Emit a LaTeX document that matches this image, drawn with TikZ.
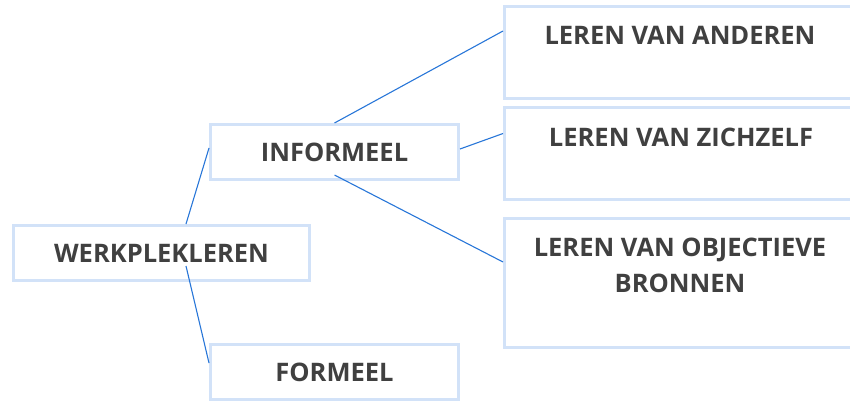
\documentclass[tikz,border=0pt]{standalone}
\usepackage{fontspec}
\setmainfont{Open Sans}
\usetikzlibrary{calc}
\definecolor{boxline}{RGB}{210,226,248}
\definecolor{connblue}{RGB}{40,118,216}
\definecolor{txtgray}{RGB}{64,64,64}
\tikzset{
  box/.style={draw=boxline, line width=3pt, fill=white, rectangle, inner sep=0pt},
  lbl/.style={text=txtgray, font=\fontsize{25.5}{36}\selectfont\bfseries, inner sep=0pt, align=center},
  conn/.style={draw=connblue, line width=1.1pt}
}
\begin{document}
\begin{tikzpicture}[x=1pt,y=-1pt]
\useasboundingbox (0,0) rectangle (850,401);
\clip (0,0) rectangle (850,401);
% boxes
\node[box, minimum width=296pt, minimum height=55pt] (werk) at (161.5,253) {};
\node[box, minimum width=248pt, minimum height=55pt] (inf) at (334.5,152) {};
\node[box, minimum width=248pt, minimum height=55pt] (form) at (334.5,372) {};
\node[box, minimum width=351pt, minimum height=92pt] (and) at (680,52.5) {};
\node[box, minimum width=351pt, minimum height=92pt] (zich) at (680,153.5) {};
\node[box, minimum width=351pt, minimum height=129pt] (obj) at (680,283) {};
% connectors
\draw[conn] ([xshift=24.5pt]werk.north) -- ([yshift=4pt]inf.west);
\draw[conn] ([xshift=24.5pt,yshift=-13pt]werk.center) -- ([yshift=9pt]form.west);
\draw[conn] (inf.north) -- ([yshift=21.5pt]and.west);
\draw[conn] ([yshift=3pt]inf.east) -- ([yshift=20pt]zich.west);
\draw[conn] ([yshift=-23pt]inf.center) -- ([yshift=21pt]obj.west);
% labels
\node[lbl] (twerk) at (161.5,253) {WERKPLEKLEREN};
\node[lbl] (tinf) at (334.5,152.5) {INFORMEEL};
\node[lbl] (tform) at (334.5,372) {FORMEEL};
\node[lbl] (tand) at (680,35.5) {LEREN VAN ANDEREN};
\node[lbl] (tzich) at (681,137) {LEREN VAN ZICHZELF};
\node[lbl] (tobj) at (680,265.5) {LEREN VAN OBJECTIEVE\\BRONNEN};
\end{tikzpicture}
\end{document}
